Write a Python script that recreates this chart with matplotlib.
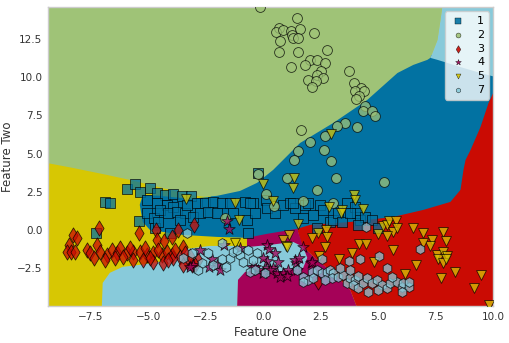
import matplotlib
matplotlib.use("Agg")
import matplotlib.pyplot as plt

# ---------------- data ----------------
class_labels = ["1", "2", "3", "4", "5", "7"]
class_colors = ["#0272a2", "#9fc377", "#ca0b03", "#a50258", "#d7c703", "#88cada"]
class_markers = ["s", "o", "d", "*", "v", "h"]

# decision regions (polygon vertices in feature space)
region_bg = "#d7c703"  # class 5 fills the rest
region_1 = [(-5.23, 2.29), (-4.49, 2.23), (-3.18, 2.03), (-2.31, 2.16), (-1.44, 2.95), (0.30, 4.58),
            (3.79, 8.51), (6.84, 11.45), (10.1, 11.45), (10.1, 0.0), (1.61, -0.13), (-0.70, -0.52),
            (-2.00, -0.46), (-3.48, -0.33), (-4.92, 0.0), (-5.23, 0.52), (-5.36, 1.64)]
region_2 = [(-9.4, 14.7), (7.80, 14.7), (7.71, 13.74), (7.58, 12.43), (7.36, 11.58), (7.27, 11.26),
            (7.14, 11.13), (6.53, 10.80), (5.84, 10.27), (4.53, 8.51), (3.05, 7.00), (1.61, 5.69),
            (0.44, 3.93), (-0.26, 3.08), (-1.00, 2.55), (-2.00, 2.23), (-2.53, 2.16), (-3.18, 2.29),
            (-4.05, 2.62), (-4.92, 2.95), (-5.79, 3.27), (-6.79, 3.60), (-8.28, 4.06), (-9.4, 4.38)]
region_7a = [(7.80, 14.7), (10.1, 14.7), (10.1, 10.01), (9.45, 10.27), (8.71, 10.60), (8.01, 10.93),
             (7.58, 11.13), (7.27, 11.26), (7.36, 11.58), (7.58, 12.43), (7.71, 13.74)]
region_3 = [(10.1, 9.29), (9.80, 8.31), (9.45, 6.74), (9.02, 5.24), (8.80, 4.58), (8.71, 3.93),
            (8.58, 2.62), (8.14, 1.83), (6.97, 1.31), (5.66, 0.85), (3.79, 0.52), (2.05, 0.33),
            (1.48, 0.07), (1.61, -0.65), (1.74, -1.11), (2.35, -1.96), (3.05, -2.81), (3.79, -3.93),
            (4.09, -5.1), (10.1, -5.1)]
region_4 = [(-1.13, -5.1), (-1.13, -2.95), (-0.70, -1.31), (-0.70, -0.52), (0.17, -0.26), (1.48, 0.07),
            (1.74, -1.11), (2.35, -1.96), (3.05, -2.81), (3.79, -3.93), (4.09, -5.1)]
region_7b = [(-7.01, -5.1), (-6.97, -3.47), (-6.66, -2.81), (-6.10, -2.42), (-5.36, -2.29), (-4.49, -2.09),
             (-3.83, -1.64), (-3.31, -1.24), (-2.31, -1.05), (-1.13, -1.05), (-0.57, -1.11), (0.30, -0.98),
             (1.31, -0.79), (1.74, -1.11), (1.92, -1.83), (1.74, -2.49), (0.74, -2.75), (-0.13, -2.62),
             (-0.78, -2.75), (-1.09, -3.27), (-1.13, -5.1)]

# class 1
x1 = [-5.92, -5.57, -4.92, -5.36, -6.88, -6.66, -7.27, -5.40, -5.05, -4.75, -4.62, -4.27, -3.92, -3.53,
      -3.14, -2.87, -2.53, -2.18, -1.79, -1.44, -0.78, -0.44, -0.70, -0.65, -4.05, -5.05, -4.62, -4.18,
      -3.92, -4.49, -4.14, -3.75, -3.40, -3.05, -3.31, -2.74, -2.40, -2.00, -1.31, -3.61, -4.70, -4.57,
      -0.22, -0.57, -0.35, 0.13, 0.17, 0.52, 0.87, 1.18, 1.39, 1.31, 1.83, 1.96, 2.18, 1.74, 2.48,
      2.92, 3.05, 3.27, 3.66, 4.01, 4.09, 4.22, 4.44, 4.75, 4.14, 5.01, 2.35, 3.44, 3.79, 2.61]
y1 = [2.68, 3.00, 2.75, 2.49, 1.83, 1.77, -0.20, 0.59, 1.11, 0.79, 2.42, 2.29, 2.36, 2.23,
      2.23, 1.77, 1.77, 1.83, 1.77, 1.77, 1.83, 1.77, 0.65, -0.20, -0.20, 1.96, 1.77, 1.64,
      1.50, 1.31, 1.11, 1.18, 1.11, 0.85, 1.64, 1.11, 1.18, 1.11, 1.11, 0.65, 0.13, 0.52,
      3.73, 1.77, 1.11, 1.96, 1.44, 1.11, 1.64, 1.77, 1.44, 1.77, 1.64, 1.77, 0.98, 0.79, 1.64,
      0.52, 0.65, 1.11, 1.77, 1.50, 1.11, 0.65, 0.85, 0.65, 0.33, 0.13, 0.13, 0.52, 1.11, 1.31]

# class 2
x2 = [-0.13, 1.48, 0.70, 0.57, 0.87, 1.22, 1.61, 1.26, 1.31, 1.52, 2.22, 0.74, 0.70, 1.52, 2.79,
      2.05, 2.35, 2.70, 1.83, 1.22, 2.53, 3.75, 2.35, 2.61, 1.96, 2.31, 2.13, 3.96, 4.27, 4.01,
      4.40, 4.18, 4.05, 4.44, 4.36, 4.75, 4.88, 3.57, 3.22, 4.09, 1.66, 2.70, 2.05, 1.52, 2.66,
      1.35, 2.96, -0.22, 1.05, 3.18, 5.27, 2.35, 0.13, 0.48, 1.74, 3.05, -1.65]
y2 = [14.6, 13.87, 13.20, 12.96, 13.10, 13.00, 13.15, 12.76, 12.56, 12.56, 12.90, 12.37, 11.65, 11.65, 11.78,
      11.13, 11.13, 10.93, 10.80, 10.67, 10.40, 10.40, 10.14, 9.95, 9.82, 9.75, 9.36, 9.62, 9.29, 9.10,
      9.10, 8.77, 8.57, 8.12, 7.79, 7.79, 7.46, 7.00, 6.80, 6.74, 6.54, 6.15, 5.76, 5.17, 5.24,
      4.58, 4.52, 3.67, 3.40, 3.40, 3.14, 2.62, 2.36, 1.57, 1.90, 1.77, 0.79]

# class 3
x3 = [-8.28, -8.10, -7.14, -8.45, -8.54, -8.36, -8.19, -7.67, -7.23, -7.53, -7.36, -7.10, -6.79, -6.58,
      -6.36, -6.23, -5.92, -5.66, -5.36, -5.05, -4.79, -4.40, -4.18, -3.96, -3.61, -3.31, -3.09, -3.48,
      -3.92, -4.36, -4.79, -5.23, -5.66, -6.10, -6.45, -6.88, -5.40, -4.66, -4.62, -4.31, -3.96, -3.70,
      -3.01, -3.48, -5.79, -5.14, -4.57, -3.83, -3.18, -4.92, -4.14, -2.83, -3.40, -2.96, 2.40]
y3 = [-0.33, -0.52, 0.13, -0.98, -1.44, -1.44, -1.44, -1.31, -0.98, -1.51, -1.83, -1.44, -1.64, -1.31,
      -1.51, -1.18, -1.51, -1.44, -1.44, -1.64, -1.51, -1.64, -1.44, -1.64, -1.77, -2.09, -2.29, -2.29,
      -1.83, -2.16, -2.09, -1.96, -1.96, -1.77, -1.83, -1.96, -0.20, 0.00, -0.65, -0.72, -0.46, 0.00,
      0.33, -1.11, -1.18, -1.18, -1.31, -1.31, -1.70, -1.83, -1.96, -1.96, -1.51, -2.29, -3.40]

# class 4
x4 = [-1.57, -1.48, -1.70, -1.00, -2.74, -2.22, -2.35, -2.00, -1.87, -3.05, -3.18, 0.17, 0.26, 0.52,
      0.65, 0.17, 0.17, -0.22, -0.48, 0.44, 0.61, 0.87, 1.09, 1.44, 1.74, 2.09, 1.48, 0.74, 1.05,
      0.00, 1.39, 1.57, 2.13, -0.35, 0.00, 0.30]
y4 = [0.59, 0.07, -0.98, -1.18, -1.31, -1.90, -2.42, -2.29, -2.62, -2.29, -2.42, -0.98, -1.24, -1.51,
      -2.09, -2.03, -2.49, -2.62, -2.42, -2.49, -2.81, -2.81, -2.62, -2.16, -1.11, -2.16, -2.62, -3.07, -3.01,
      -1.83, -1.96, -1.83, -2.09, -2.42, -2.81, -2.62]

# class 5
x5 = [0.00, 1.35, 1.31, 0.44, 2.87, 3.44, 3.40, 3.96, 4.01, 4.36, 1.52, 2.40, 2.74, 2.79, 2.13,
      1.13, 0.87, 1.00, 1.05, 2.70, 2.44, 3.31, 3.88, 4.18, 4.49, 5.01, 5.23, 5.40, 5.49, 5.79,
      5.66, 5.40, 5.84, 5.66, 4.83, 6.53, 6.97, 7.32, 7.27, 6.97, 7.84, 7.93, 7.58, 7.84, 8.01,
      7.62, 7.80, 7.97, 6.66, 6.18, 8.36, 7.75, 9.49, 9.15, 9.84, -3.35, -1.22, -1.05, -1.22, 2.96]
y5 = [3.01, 3.40, 2.75, 1.90, 1.50, 1.31, 1.11, 2.29, 1.96, 1.37, 0.39, -0.20, 0.00, -0.46, -0.52,
      -0.33, -0.65, -1.05, -1.11, -1.11, -1.70, -1.90, -1.51, -0.92, -0.92, -0.26, 0.26, 0.33, 0.59, 0.59,
      -0.13, -0.39, 0.13, -1.31, -2.09, 0.13, -0.20, -0.65, -1.05, -0.85, -0.13, -0.72, -1.64, -1.44, -1.70,
      -1.90, -2.16, -1.90, -2.29, -2.88, -2.75, -3.14, -2.95, -3.80, -4.91, 2.03, 1.77, 0.65, -0.85, 6.28]

# class 7
x7 = [2.57, 3.75, 4.22, 5.05, 4.49, 5.40, 6.84, 1.48, 1.74, 1.96, 1.74, 2.13, 2.35, 2.57, 2.79,
      2.92, 3.05, 3.00, 2.70, 3.27, 3.48, 3.66, 3.79, 4.01, 3.92, 4.14, 4.36, 4.53, 4.75, 4.57,
      4.96, 5.18, 5.40, 5.53, 5.84, 6.05, 6.10, 6.36, 6.36, 6.05, 5.62, 5.01, 3.79, 4.14, 3.35,
      2.18, -0.57, -0.35, 0.09, -3.09, -2.40, -1.79, -1.44, -1.61, -1.31, -2.66, -2.83, -2.18, -1.00,
      -0.87, -0.26, -0.44, -0.65, -1.13, -3.48, -3.31, -1.79]
y7 = [-1.90, -2.03, -1.90, -1.70, 0.20, -2.49, -1.24, -2.62, -3.07, -3.27, -3.40, -2.75, -2.62, -2.81, -2.75,
      -2.62, -2.81, -3.14, -3.27, -3.07, -2.95, -3.47, -3.14, -3.27, -3.60, -3.80, -3.47, -3.14, -3.47, -4.06,
      -3.27, -3.60, -3.80, -3.47, -3.40, -3.73, -3.47, -3.73, -3.40, -4.06, -3.07, -3.93, -2.62, -3.01, -2.49,
      -3.14, -2.75, -2.62, -2.81, -1.51, -1.51, -1.90, -1.83, -2.42, -1.44, -2.16, -2.62, -2.29, -1.64,
      -2.09, -1.51, -1.96, -1.31, -1.31, -1.83, -0.20, -0.85]

points = [(x1, y1), (x2, y2), (x3, y3), (x4, y4), (x5, y5), (x7, y7)]

# ---------------- plot ----------------
fig = plt.figure(figsize=(5.1, 3.43), dpi=100)
ax = fig.add_axes([0.094, 0.108, 0.873, 0.872])
ax.set_facecolor(region_bg)

# regions, in draw order
for poly, col in [(region_1, class_colors[0]), (region_2, class_colors[1]), (region_7a, class_colors[5]),
                  (region_3, class_colors[2]), (region_4, class_colors[3]), (region_7b, class_colors[5])]:
    xs = [p[0] for p in poly]
    ys = [p[1] for p in poly]
    ax.fill(xs, ys, color=col, lw=0, zorder=1)

sizes = {"s": 55, "o": 50, "d": 60, "*": 75, "v": 50, "h": 50}
for (xs, ys), lab, col, mk in zip(points, class_labels, class_colors, class_markers):
    ax.scatter(xs, ys, s=sizes[mk], c=col, marker=mk, edgecolors="k", linewidths=0.6,
               alpha=0.75, label=lab, zorder=3)

ax.set_xlim(-9.35, 10.0)
ax.set_ylim(-4.98, 14.6)
ax.set_xticks([-7.5, -5.0, -2.5, 0.0, 2.5, 5.0, 7.5, 10.0])
ax.set_yticks([-2.5, 0.0, 2.5, 5.0, 7.5, 10.0, 12.5])
ax.tick_params(length=0, labelsize=7.5, colors="#333333", pad=4)
for sp in ax.spines.values():
    sp.set_color("#cccccc")
    sp.set_linewidth(1.0)

ax.set_xlabel("Feature One", fontsize=8.5, color="#333333", labelpad=3)
ax.set_ylabel("Feature Two", fontsize=8.5, color="#333333", labelpad=2)

leg = ax.legend(loc="upper right", fontsize=8, markerscale=0.5, frameon=True, framealpha=0.8,
                edgecolor="#cccccc", borderpad=0.4, labelspacing=0.35, handletextpad=0.9,
                handlelength=1.6, borderaxespad=0.4)
leg.get_frame().set_facecolor("white")
for h in leg.legend_handles:
    h.set_alpha(0.9)
    h.set_linewidth(0.3)

fig.savefig("out.png", dpi=100)
